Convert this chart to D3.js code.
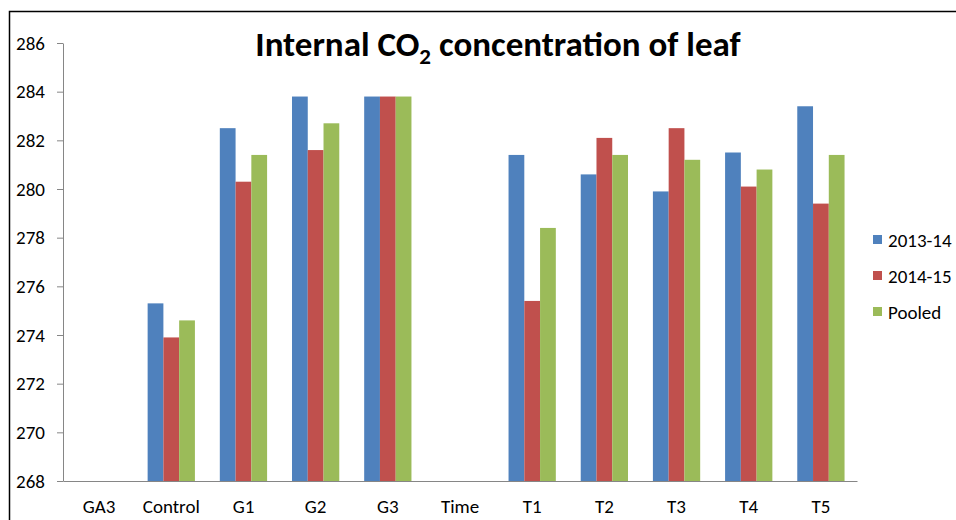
<!DOCTYPE html>
<html>
<head>
<meta charset="utf-8">
<script src="https://cdn.jsdelivr.net/npm/d3@7"></script>
<style>
  html, body { margin: 0; padding: 0; background: #fff; }
  svg { display: block; }
  text { font-family: Carlito, Calibri, Lato, "Open Sans", sans-serif; }
</style>
</head>
<body>
<svg id="chart" width="956" height="520"></svg>
<script>
// Treatments along the x axis (GA3 and Time are group headers without bars)
const categories = ["GA3", "Control", "G1", "G2", "G3", "Time", "T1", "T2", "T3", "T4", "T5"];
const seriesNames = ["2013-14", "2014-15", "Pooled"];
const colors = ["#4f81bd", "#c0504d", "#9bbb59"];

// Internal CO2 concentration per treatment
const values2013 = [null, 275.3, 282.5, 283.8, 283.8, null, 281.4, 280.6, 279.9, 281.5, 283.4];
const values2014 = [null, 273.9, 280.3, 281.6, 283.8, null, 275.4, 282.1, 282.5, 280.1, 279.4];
const valuesPooled = [null, 274.6, 281.4, 282.7, 283.8, null, 278.4, 281.4, 281.2, 280.8, 281.4];

const yTicks = [268, 270, 272, 274, 276, 278, 280, 282, 284, 286];

const seriesValues = [values2013, values2014, valuesPooled];

const svg = d3.select("#chart");

// outer chart frame (extends past the right and bottom edges)
svg.append("path")
  .attr("d", "M9.5,530 V11.5 H970")
  .attr("fill", "none")
  .attr("stroke", "#000")
  .attr("stroke-width", 1.5);

const plot = { left: 63, right: 857, top: 43, bottom: 481 };

const x = d3.scaleBand()
  .domain(categories)
  .range([plot.left, plot.right])
  .paddingInner(0)
  .paddingOuter(0);

const inner = d3.scaleBand()
  .domain(seriesNames)
  .range([0, x.bandwidth() * 0.655])
  .padding(0);

const y = d3.scaleLinear()
  .domain([268, 286])
  .range([plot.bottom, plot.top]);

// bars
const groups = svg.append("g")
  .selectAll("g")
  .data(categories)
  .join("g")
  .attr("transform", d => `translate(${x(d) + (x.bandwidth() - x.bandwidth() * 0.655) / 2},0)`);

groups.selectAll("rect")
  .data((d, i) => seriesNames.map((s, k) => ({ s, k, v: seriesValues[k][i] })).filter(e => e.v !== null))
  .join("rect")
  .attr("x", e => inner(e.s))
  .attr("width", inner.bandwidth())
  .attr("y", e => y(e.v))
  .attr("height", e => y(268) - y(e.v))
  .attr("fill", e => colors[e.k]);

// y axis
const yAxis = svg.append("g")
  .attr("transform", `translate(${plot.left},0)`)
  .call(d3.axisLeft(y).tickValues(yTicks).tickSize(6).tickPadding(12).tickSizeOuter(0));
yAxis.select(".domain").attr("stroke", "#868686");
yAxis.selectAll(".tick line").attr("stroke", "#868686");
yAxis.selectAll(".tick text")
  .attr("fill", "#000")
  .style("font-size", "19px");

// x axis
const xAxis = svg.append("g")
  .attr("transform", `translate(0,${plot.bottom})`)
  .call(d3.axisBottom(x).tickSize(0).tickPadding(19));
xAxis.select(".domain").attr("stroke", "#868686");
xAxis.selectAll(".tick text")
  .attr("fill", "#000")
  .style("font-size", "19px");

// title with subscript
const title = svg.append("text")
  .attr("x", 498)
  .attr("y", 56)
  .attr("text-anchor", "middle")
  .style("font-size", "35px")
  .style("font-weight", "bold")
  .attr("fill", "#000");
title.append("tspan").text("Internal CO");
title.append("tspan").text("2").attr("dy", 8).style("font-size", "23px");
title.append("tspan").text(" concentration of leaf").attr("dy", -8);

// legend
const legend = svg.append("g")
  .selectAll("g")
  .data(seriesNames)
  .join("g")
  .attr("transform", (d, i) => `translate(873,${240 + i * 36})`);
legend.append("rect")
  .attr("x", 0).attr("y", -5)
  .attr("width", 9).attr("height", 9)
  .attr("fill", (d, i) => colors[i]);
legend.append("text")
  .attr("x", 15).attr("y", 6.5)
  .style("font-size", "19px")
  .attr("fill", "#000")
  .text(d => d);
</script>
</body>
</html>
